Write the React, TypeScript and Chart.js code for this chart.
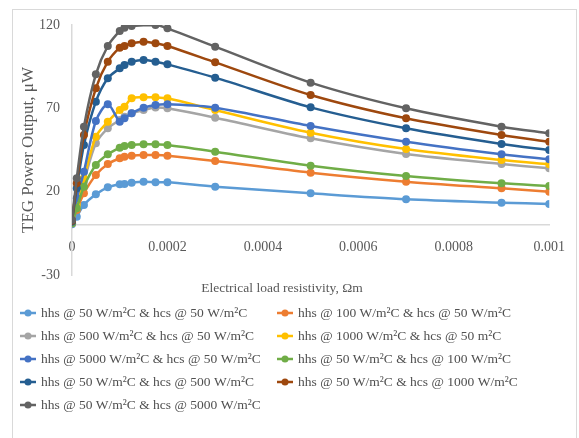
import React, { useEffect, useRef } from 'react';
import { Chart, registerables } from 'chart.js';

Chart.register(...registerables);

const xValues = [0, 0.00001, 0.000025, 0.00005, 0.000075, 0.0001, 0.00011, 0.000125, 0.00015, 0.000175, 0.0002, 0.0003, 0.0005, 0.0007, 0.0009, 0.001];

const hhs50hcs50 = [0.5, 5, 12, 18.4, 22.6, 24.4, 24.6, 25.4, 26, 25.6, 25.6, 23, 19, 15.4, 13.4, 12.6];
const hhs100hcs50 = [1, 9, 19, 30, 36.6, 40, 41, 41.6, 42, 42, 41.6, 38.4, 31.4, 26, 22, 20];
const hhs500hcs50 = [1.5, 11, 26, 49, 58, 63, 65, 67, 69, 70.5, 70, 64.4, 52, 42.6, 36.6, 34];
const hhs1000hcs50 = [1.5, 12, 28, 53, 62, 69, 71, 76, 76.6, 76.6, 76, 69, 55.4, 45.6, 39, 36.4];
const hhs5000hcs50 = [2, 16, 32, 62.4, 72.4, 62, 64, 67, 70.4, 72, 72.4, 70.4, 59.4, 50, 42.4, 39.4];
const hhs50hcs100 = [1, 10, 23, 36, 42.4, 46.4, 47.4, 48, 48.4, 48.4, 48, 44, 35.6, 29.4, 25, 23.4];
const hhs50hcs500 = [2, 22, 48, 74, 88, 94, 96, 98, 99, 98, 96.4, 88.4, 70.6, 58, 48.6, 45];
const hhs50hcs1000 = [2.5, 25, 54, 82, 98, 106.4, 107.4, 109, 110, 109, 107.4, 97.6, 78, 64, 54, 50];
const hhs50hcs5000 = [3, 28, 59, 90.4, 107.4, 116.4, 118.4, 119.4, null, 120, 118, 107, 85.4, 70, 59, 55];

const seriesValues = [hhs50hcs50, hhs100hcs50, hhs500hcs50, hhs1000hcs50, hhs5000hcs50, hhs50hcs100, hhs50hcs500, hhs50hcs1000, hhs50hcs5000];

const seriesLabels = [
  'hhs @ 50 W/m²C & hcs @ 50 W/m²C',
  'hhs @ 100 W/m²C & hcs @ 50 W/m²C',
  'hhs @ 500 W/m²C & hcs @ 50 W/m²C',
  'hhs @ 1000 W/m²C & hcs @ 50 m²C',
  'hhs @ 5000 W/m²C & hcs @ 50 W/m²C',
  'hhs @ 50 W/m²C & hcs @ 100 W/m²C',
  'hhs @ 50 W/m²C & hcs @ 500 W/m²C',
  'hhs @ 50 W/m²C & hcs @ 1000 W/m²C',
  'hhs @ 50 W/m²C & hcs @ 5000 W/m²C',
];

const seriesColors = ['#5B9BD5', '#ED7D31', '#A5A5A5', '#FFC000', '#4472C4', '#70AD47', '#255E91', '#9E480E', '#636363'];

const xTicks = [0, 0.0002, 0.0004, 0.0006, 0.0008, 0.001];
const xTickLabels = ['0', '0.0002', '0.0004', '0.0006', '0.0008', '0.001'];
const yTicks = [-30, 20, 70, 120];
const yTickLabels = ['-30', '20', '70', '120'];

const xTitle = 'Electrical load resistivity, Ωm';
const yTitle = 'TEG Power Output, μW';

const FONT = '"Liberation Serif", "Times New Roman", serif';

const decorPlugin = {
  id: 'decor',
  beforeDraw(chart: any) {
    const ctx = chart.ctx;
    ctx.save();
    ctx.strokeStyle = '#D9D9D9';
    ctx.lineWidth = 1;
    ctx.strokeRect(12.5, 9.5, 564, 440);
    ctx.restore();
  },
  afterDraw(chart: any) {
    const ctx = chart.ctx;
    ctx.save();
    ctx.font = `13.5px ${FONT}`;
    ctx.fillStyle = '#595959';
    ctx.textAlign = 'center';
    ctx.textBaseline = 'middle';
    ctx.fillText(xTitle, 282, 288);

    chart.data.datasets.forEach((ds: any, i: number) => {
      const col = i % 2;
      const row = Math.floor(i / 2);
      const x0 = col === 0 ? 20 : 277;
      const y = 313 + row * 23;
      ctx.strokeStyle = ds.borderColor;
      ctx.lineWidth = 2.5;
      ctx.beginPath();
      ctx.moveTo(x0, y);
      ctx.lineTo(x0 + 16, y);
      ctx.stroke();
      ctx.fillStyle = ds.borderColor;
      ctx.beginPath();
      ctx.arc(x0 + 8, y, 3.5, 0, Math.PI * 2);
      ctx.fill();
      ctx.fillStyle = '#505050';
      ctx.textAlign = 'left';
      ctx.font = `13.5px ${FONT}`;
      ctx.fillText(ds.label, x0 + 21, y);
    });
    ctx.restore();
  },
};

export default function App() {
  const ref = useRef<HTMLCanvasElement>(null);

  useEffect(() => {
    document.body.style.margin = '0';
    if (!ref.current) return;
    const datasets = seriesValues.map((vals, i) => ({
      label: seriesLabels[i],
      data: xValues
        .map((x, j) => ({ x, y: vals[j] }))
        .filter((p) => p.y !== null),
      borderColor: seriesColors[i],
      backgroundColor: seriesColors[i],
      borderWidth: 2.5,
      pointRadius: 4,
      pointBorderWidth: 0,
      pointHoverRadius: 4,
      tension: 0.3,
      fill: false,
      order: -i,
    }));

    const chart = new Chart(ref.current, {
      type: 'line',
      data: { datasets },
      plugins: [decorPlugin],
      options: {
        animation: false,
        responsive: false,
        maintainAspectRatio: false,
        layout: { padding: { left: 0, top: 25, right: 26, bottom: 163 } },
        plugins: { legend: { display: false }, tooltip: { enabled: false } },
        scales: {
          x: {
            type: 'linear',
            min: 0,
            max: 0.001,
            position: { y: 0 } as any,
            grid: { display: false, drawTicks: false },
            border: { display: true, color: '#D9D9D9', width: 1.5 },
            afterBuildTicks: (scale: any) => {
              scale.ticks = xTicks.map((v) => ({ value: v }));
            },
            ticks: {
              padding: 14,
              maxRotation: 0,
              autoSkip: false,
              color: '#595959',
              font: { family: FONT, size: 14 },
              callback: (_v: any, i: number) => xTickLabels[i],
            },
          },
          y: {
            type: 'linear',
            min: -30,
            max: 120,
            grid: { display: false, drawTicks: false },
            border: { display: true, color: '#D9D9D9', width: 1.5 },
            afterBuildTicks: (scale: any) => {
              scale.ticks = yTicks.map((v) => ({ value: v }));
            },
            afterFit: (scale: any) => {
              scale.width = 72;
            },
            ticks: {
              padding: 12,
              color: '#595959',
              font: { family: FONT, size: 14 },
              callback: (_v: any, i: number) => yTickLabels[i],
            },
            title: {
              display: true,
              text: yTitle,
              color: '#595959',
              font: { family: FONT, size: 17 },
              padding: { top: 18, bottom: 0 },
            },
          },
        },
      },
    });
    return () => chart.destroy();
  }, []);

  return <canvas ref={ref} width={579} height={438} style={{ display: 'block' }} />;
}
